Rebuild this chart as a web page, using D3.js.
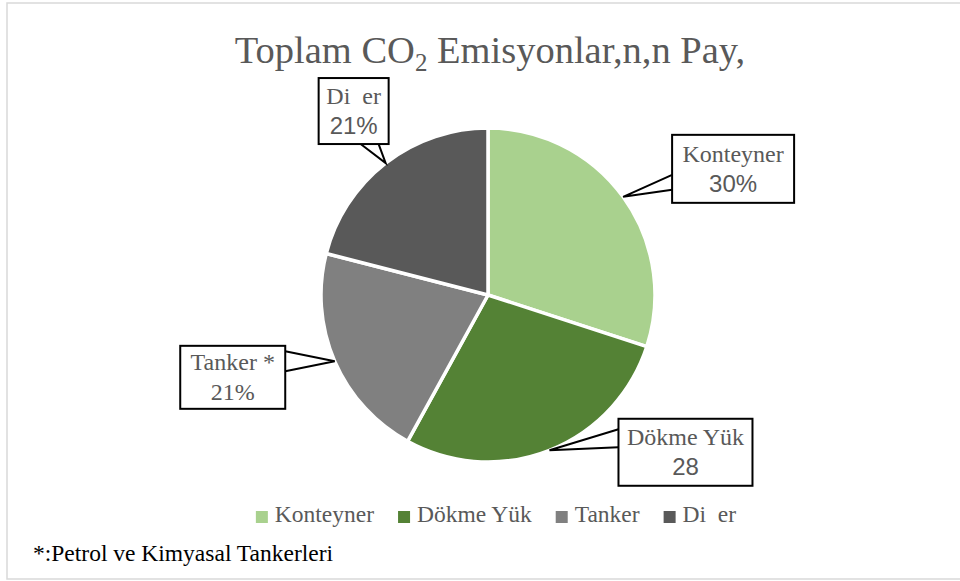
<!DOCTYPE html>
<html>
<head>
<meta charset="utf-8">
<script src="https://cdn.jsdelivr.net/npm/d3@7"></script>
<style>
  body { margin: 0; background: #fff; }
  svg { display: block; }
  text { font-family: "Liberation Serif", "Times New Roman", serif; }
</style>
</head>
<body>
<svg id="pie" width="960" height="581"></svg>
<script>
// data
const categories = ["Konteyner", "Dökme Yük", "Tanker", "Di\u2002er"];
const shares = [30, 28, 21, 21];
const labelNames = ["Konteyner", "Dökme Yük", "Tanker *", "Di\u2002er"];
const labelValues = ["30%", "28", "21%", "21%"];
const footnote = "*:Petrol ve Kimyasal Tankerleri";

// styling / layout
const colors = ["#A9D18E", "#548235", "#808080", "#595959"];
const valueFonts = ["sans", "sans", "serif", "sans"];
// callout box: offset of box centre from anchor, size, side the pointer leaves from, pointer base offsets along side
const callouts = [
  {dx: 110, dy: -28, w: 122, h: 68, side: "left",   b: [6, 21]},
  {dx: 136, dy: 2,   w: 134, h: 67, side: "left",   b: [-23, -5]},
  {dx: -102, dy: 16, w: 105, h: 63, side: "right",  b: [-26, -6]},
  {dx: -32, dy: -52, w: 70,  h: 66, side: "bottom", b: [7, 25]}
];

const svg = d3.select("#pie");
const cx = 488, cy = 295, radius = 167;

// outer frame
svg.append("rect")
   .attr("x", 7).attr("y", 3)
   .attr("width", 980).attr("height", 576)
   .attr("fill", "none")
   .attr("stroke", "#d9d9d9")
   .attr("stroke-width", 1.5);

// title
const title = svg.append("text")
   .attr("x", 490).attr("y", 63)
   .attr("text-anchor", "middle")
   .attr("fill", "#595959")
   .attr("font-size", 38.5);
title.append("tspan").text("Toplam CO");
title.append("tspan").attr("font-size", 25).attr("dy", 8).text("2");
title.append("tspan").attr("dy", -8).text(" Emisyonlar,n,n Pay,");

// pie
const pie = d3.pie().sort(null).value(d => d);
const arcs = pie(shares);
const arc = d3.arc().innerRadius(0).outerRadius(radius);
const edgeArc = d3.arc().innerRadius(radius).outerRadius(radius);

const chart = svg.append("g").attr("transform", `translate(${cx}, ${cy})`);
chart.selectAll("path")
     .data(arcs)
     .join("path")
     .attr("d", arc)
     .attr("fill", (d, i) => colors[i])
     .attr("stroke", "#fff")
     .attr("stroke-width", 3.5)
     .attr("stroke-linejoin", "round");

// callouts
arcs.forEach((d, i) => {
    const [ax, ay] = edgeArc.centroid(d);
    const c = callouts[i];
    const bx = ax + c.dx, by = ay + c.dy;
    const x0 = bx - c.w / 2, y0 = by - c.h / 2;
    const g = chart.append("g");

    let p1, p2;
    if (c.side === "left") { p1 = [x0, by + c.b[0]]; p2 = [x0, by + c.b[1]]; }
    else if (c.side === "right") { p1 = [x0 + c.w, by + c.b[0]]; p2 = [x0 + c.w, by + c.b[1]]; }
    else { p1 = [bx + c.b[0], y0 + c.h]; p2 = [bx + c.b[1], y0 + c.h]; }

    g.append("path")
     .attr("d", `M${p1[0]},${p1[1]}L${ax},${ay}L${p2[0]},${p2[1]}`)
     .attr("fill", "#fff")
     .attr("stroke", "#000")
     .attr("stroke-width", 2)
     .attr("stroke-linejoin", "miter");

    g.append("rect")
     .attr("x", x0).attr("y", y0)
     .attr("width", c.w).attr("height", c.h)
     .attr("fill", "#fff")
     .attr("stroke", "#000")
     .attr("stroke-width", 2);

    g.append("text")
     .attr("x", bx).attr("y", by - 7)
     .attr("text-anchor", "middle")
     .attr("fill", "#595959")
     .attr("font-size", 24)
     .text(labelNames[i]);

    g.append("text")
     .attr("x", bx).attr("y", by + 23)
     .attr("text-anchor", "middle")
     .attr("fill", "#595959")
     .attr("font-size", valueFonts[i] === "sans" ? 24 : 24)
     .style("font-family", valueFonts[i] === "sans" ? "'Liberation Sans', Arial, sans-serif" : null)
     .text(labelValues[i]);
});

// legend
const legend = svg.append("g");
let lx = 0;
categories.forEach((name, i) => {
    const item = legend.append("g").attr("transform", `translate(${lx}, 0)`);
    item.append("rect")
        .attr("x", 0).attr("y", -11)
        .attr("width", 12).attr("height", 12)
        .attr("fill", colors[i]);
    const t = item.append("text")
        .attr("x", 19).attr("y", 0)
        .attr("fill", "#595959")
        .attr("font-size", 23.5)
        .text(name);
    lx += 19 + t.node().getComputedTextLength() + 24;
});
const legendWidth = lx - 24;
legend.attr("transform", `translate(${496 - legendWidth / 2}, 522)`);

// footnote
svg.append("text")
   .attr("x", 33).attr("y", 561)
   .attr("fill", "#000")
   .attr("font-size", 23.5)
   .text(footnote);
</script>
</body>
</html>
